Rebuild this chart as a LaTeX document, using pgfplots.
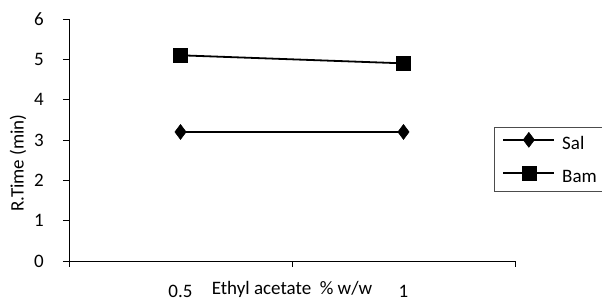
\documentclass[border=0pt]{standalone}
\usepackage{fontspec}
\setmainfont{Carlito}
\usepackage{pgfplots}
\pgfplotsset{compat=1.18}
\begin{document}
\begin{tikzpicture}
\begin{axis}[name=ax, scale only axis, width=446pt, height=242pt,
  xmin=-0.5, xmax=1.5, ymin=0, ymax=6,
  axis x line*=bottom, axis y line*=left,
  axis line style={-, line width=0.9pt, black},
  font=\fontsize{19}{23}\selectfont,
  /pgf/number format/assume math mode=true,
  xtick={-0.5,0.5,1.5}, xticklabels={},
  extra x ticks={0,1}, extra x tick labels={0.5,1},
  extra x tick style={major tick length=0pt, tick label style={anchor=north, inner sep=0pt, yshift=-24pt}},
  ytick={0,1,2,3,4,5,6},
  yticklabel style={anchor=east, inner sep=0pt, xshift=-19pt},
  tick align=outside, major tick length=6pt,
  tick style={black, line width=0.9pt},
  xlabel={Ethyl acetate\ \ \% w/w},
  xlabel style={at={(axis description cs:0.5,-0.085)}, anchor=north, inner sep=0pt},
  ylabel={R.Time (min)},
  ylabel style={at={(axis description cs:-0.1143,0.405)}, anchor=center, inner sep=0pt},
  legend style={at={(axis description cs:0.953,0.554)}, anchor=north west,
    draw=black!70, line width=0.8pt, inner xsep=8pt, inner ysep=5pt,
    nodes={inner sep=0pt, text height=12pt, text depth=4pt, anchor=west, text width=60pt},
    row sep=12pt, column sep=7pt, font=\fontsize{19}{23}\selectfont},
  legend cell align=left,
  legend image code/.code={\draw[mark repeat=2, mark phase=2, #1] plot coordinates {(0pt,6pt) (25.5pt,6pt) (51pt,6pt)};},
]
\addplot[black, line width=1.8pt, mark=diamond*, mark size=7.5pt, mark options={solid, line width=0.5pt}] coordinates {(0,3.2) (1,3.2)};
\addlegendentry{Sal}
\addplot[black, line width=1.8pt, mark=square*, mark size=7pt, mark options={solid, line width=0.5pt}] coordinates {(0,5.1) (1,4.9)};
\addlegendentry{Bam}
\end{axis}
\pgfresetboundingbox
\path[use as bounding box] ([shift={(-69pt,-42pt)}]ax.south west) rectangle ([shift={(87pt,19pt)}]ax.north east);
\end{tikzpicture}
\end{document}
